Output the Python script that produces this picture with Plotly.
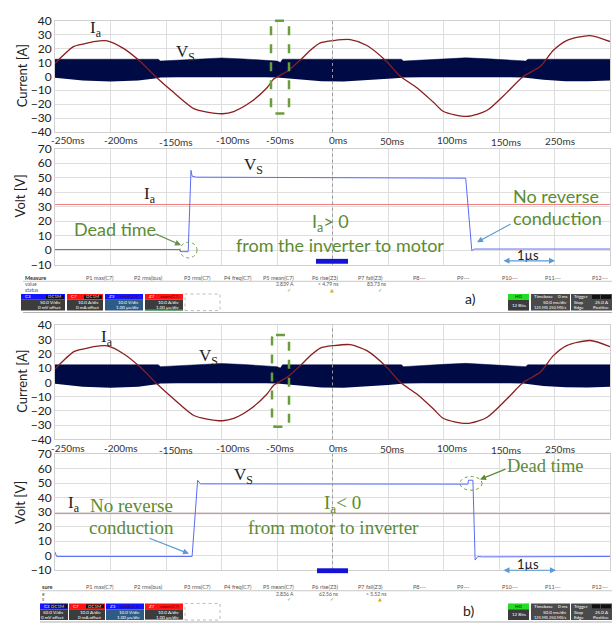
import plotly.graph_objects as go

W, H = 616, 628

# ---------------- data ----------------
# phase current Ia (A) vs time (ms) - upper panels
ia_t = [-250, -233, -224, -215, -203, -188, -173, -158, -143, -125, -113, -99, -89, -74, -59, -53, -41,
        -29, -20, -11, 1, 16, 31, 49, 61, 76, 91, 100, 121, 139, 157, 172, 187, 199, 211, 232, 250]
ia_v = [9.3, 21.5, 23.4, 25.0, 25.5, 19.9, 10.5, -1.2, -11.7, -23.2, -25.7, -26.9, -25.3, -18.7, -8.2, -2.0, 3.5,
        11.7, 18.7, 24.0, 25.7, 26.4, 22.2, 10.5, 0.0, -8.2, -18.7, -25.3, -28.8, -24.6, -11.7, 0.0, 7.0, 18.7, 25.7, 29.3, 25.0]

# PWM voltage Vs envelope (dense band) in the current panels
band_t = [-250, -225, -200, -175, -160, -157, -155, -140, -120, -100, -80, -60, -50, -47, -45, -30, -10, 10, 30,
          50, 60, 62, 64, 80, 100, 120, 140, 160, 172, 174, 176, 190, 210, 230, 250]
band_hi = [12.3, 12.3, 12.4, 12.3, 12.3, 12.3, 11.0, 11.5, 12.5, 13.2, 12.5, 11.5, 11.0, 10.0, 12.3, 12.3, 12.4, 12.4, 12.3,
           12.3, 12.3, 12.3, 11.0, 11.5, 12.6, 13.3, 12.6, 11.5, 11.0, 11.0, 12.3, 12.3, 12.4, 12.3, 12.3]
band_lo = [-1.0, -3.0, -3.8, -3.0, -1.5, -1.0, -0.8, -0.6, -0.5, -0.4, -0.5, -0.6, -0.8, -1.0, -1.2, -2.5, -3.6, -3.8, -3.0,
           -1.8, -1.2, -1.0, -0.8, -0.6, -0.5, -0.4, -0.5, -0.6, -0.8, -1.0, -1.2, -2.5, -3.5, -3.6, -3.0]

# zoomed switching transient (time in µs, volts)
vs_a_t = [0, 2.25, 2.26, 2.40, 2.45, 2.47, 2.55, 3.5, 5.5, 7.40, 7.51, 7.56, 10]
vs_a_v = [0.5, 0.5, -1.0, -1.0, 55.0, 51.0, 50.3, 50.1, 49.9, 49.6, -0.3, 0.8, 0.8]
vs_b_t = [0, 0.03, 2.47, 2.57, 2.62, 3.5, 5.5, 7.44, 7.45, 7.53, 7.57, 7.62, 7.7, 10]
vs_b_v = [2.5, -0.5, -0.5, 52.0, 49.5, 49.5, 49.3, 49.3, 52.0, 52.0, -3.0, -0.5, -0.8, -0.5]
ia_zoom_t = [0, 10]
ia_zoom_a = [31.5, 31.5]
ia_zoom_b = [29.0, 29.0]

t_ticks = [-250, -200, -150, -100, -50, 0, 50, 100, 150, 200]
t_ticktext = ["-250ms", "-200ms", "-150ms", "-100ms", "-50ms", "0ms", "50ms", "100ms", "150ms", "250ms"]
cur_ticks = [-40, -30, -20, -10, 0, 10, 20, 30, 40]
volt_ticks = [-10, 0, 10, 20, 30, 40, 50, 60, 70]

meas_headers = ["P1 max(C7)", "P2 rms(bus)", "P3 rms(C7)", "P4 freq(C7)", "P5 mean(C7)", "P6 rise(Z3)",
                "P7 fall(Z3)", "P8---", "P9---", "P10---", "P11---", "P12---"]
meas_vals_a = ["2.839 A", "< 4.79 ns", "83.73 ns"]
meas_vals_b = ["2.836 A", "62.56 ns", "< 5.52 ns"]

# ---------------- styles ----------------
SANS = "Lato"
SERIF = "Liberation Serif"
GREEN = "#5b8c32"
BLUEA = "#5b9bd5"
NAVY = "#000a45"
GRID = "#dedede"
tick_shift = [13, 10, 10, 11, 3, 5, 4, 8, 7, 5]     # label offsets seen in the picture (px)
tick_dy = [0, 0, 2, 0, 0, 0, 1, 0, 2, 1]

def px(x, y):
    return x / W, 1 - y / H

ann = []
shapes = []

def txt(x, y, s, size=6, color="#555", xanchor="center", family=SANS, angle=0):
    X, Y = px(x, y)
    ann.append(dict(x=X, y=Y, xref="paper", yref="paper", text=s, showarrow=False, xanchor=xanchor,
                    yanchor="middle", textangle=angle, font=dict(size=size, color=color, family=family)))

def arrow(xh, yh, xt, yt, color, both=False):
    X, Y = px(xh, yh)
    d = dict(x=X, y=Y, xref="paper", yref="paper", ax=xt - xh, ay=yt - yh, axref="pixel", ayref="pixel",
             text="", showarrow=True, arrowhead=2, arrowsize=1, arrowwidth=1.2, arrowcolor=color)
    if both:
        d["arrowside"] = "end+start"
    ann.append(d)

def rect(x0, y0, x1, y1, fill=None, line=None, lw=0, dash=None):
    X0, Y1 = px(x0, y0)
    X1, Y0 = px(x1, y1)
    ln = dict(width=lw, color=line or "rgba(0,0,0,0)")
    if dash:
        ln["dash"] = dash
    shapes.append(dict(type="rect", xref="paper", yref="paper", x0=X0, x1=X1, y0=Y0, y1=Y1,
                       fillcolor=fill or "rgba(0,0,0,0)", line=ln, layer="above"))

def hline(x0, x1, y, color="#c8c8c8", w=1):
    X0, Y = px(x0, y)
    X1, _ = px(x1, y)
    shapes.append(dict(type="line", xref="paper", yref="paper", x0=X0, x1=X1, y0=Y, y1=Y,
                       line=dict(color=color, width=w)))

def rounded_rect(x0, y0, x1, y1, r, color):
    def P(x, y):
        X, Y = px(x, y)
        return f"{X:.5f},{Y:.5f}"
    path = (f"M {P(x0 + r, y0)} L {P(x1 - r, y0)} Q {P(x1, y0)} {P(x1, y0 + r)} "
            f"L {P(x1, y1 - r)} Q {P(x1, y1)} {P(x1 - r, y1)} L {P(x0 + r, y1)} "
            f"Q {P(x0, y1)} {P(x0, y1 - r)} L {P(x0, y0 + r)} Q {P(x0, y0)} {P(x0 + r, y0)} Z")
    shapes.append(dict(type="path", xref="paper", yref="paper", path=path,
                       line=dict(color=color, width=2.5, dash="dash"), layer="above"))

def circle(x0, y0, x1, y1, color):
    X0, Y1 = px(x0, y0)
    X1, Y0 = px(x1, y1)
    shapes.append(dict(type="circle", xref="paper", yref="paper", x0=X0, x1=X1, y0=Y0, y1=Y1,
                       line=dict(color=color, width=1, dash="dot"), layer="above"))

# ---------------- traces ----------------
fig = go.Figure()
for xa, ya in (("x", "y"), ("x3", "y3")):
    fig.add_trace(go.Scatter(x=band_t, y=band_lo, xaxis=xa, yaxis=ya, mode="lines",
                             line=dict(width=0, color=NAVY), hoverinfo="skip"))
    fig.add_trace(go.Scatter(x=band_t, y=band_hi, xaxis=xa, yaxis=ya, mode="lines", fill="tonexty",
                             fillcolor=NAVY, line=dict(width=0.5, color=NAVY), hoverinfo="skip"))
    fig.add_trace(go.Scatter(x=ia_t, y=ia_v, xaxis=xa, yaxis=ya, mode="lines",
                             line=dict(width=1.3, color="#8b1f1f", shape="spline", smoothing=0.7)))

fig.add_trace(go.Scatter(x=ia_zoom_t, y=ia_zoom_a, xaxis="x2", yaxis="y2", mode="lines",
                         line=dict(width=1, color="#f27a7a")))
fig.add_trace(go.Scatter(x=vs_a_t, y=vs_a_v, xaxis="x2", yaxis="y2", mode="lines",
                         line=dict(width=1, color="#5a6cf2")))
fig.add_trace(go.Scatter(x=ia_zoom_t, y=ia_zoom_b, xaxis="x4", yaxis="y4", mode="lines",
                         line=dict(width=1, color="#f27a7a")))
fig.add_trace(go.Scatter(x=vs_b_t, y=vs_b_v, xaxis="x4", yaxis="y4", mode="lines",
                         line=dict(width=1, color="#5a6cf2")))

# ---------------- axes ----------------
xdom = [55 / W, 610 / W]
def ydom(top, bot):
    return [1 - bot / H, 1 - top / H]

common = dict(showline=True, linecolor="#d0d0d0", mirror=True, zeroline=False, gridcolor=GRID,
              showgrid=True, ticks="")
xcur = dict(common, domain=xdom, range=[-250, 250], tickvals=t_ticks, showticklabels=False)
xvolt = dict(common, domain=xdom, range=[0, 10], dtick=1, showticklabels=False)
ycur = dict(common, range=[-40, 40], tickvals=cur_ticks, tickfont=dict(size=12, color="#222", family=SANS))
yvolt = dict(common, range=[-10, 70], tickvals=volt_ticks, tickfont=dict(size=12, color="#222", family=SANS))

layout = dict(
    width=W, height=H, margin=dict(l=0, r=0, t=0, b=0), showlegend=False,
    paper_bgcolor="white", plot_bgcolor="white",
    xaxis=dict(xcur, anchor="y"), yaxis=dict(ycur, domain=ydom(13, 127), anchor="x"),
    xaxis2=dict(xvolt, anchor="y2"), yaxis2=dict(yvolt, domain=ydom(144, 263), anchor="x2"),
    xaxis3=dict(xcur, anchor="y3"), yaxis3=dict(ycur, domain=ydom(325, 442), anchor="x3"),
    xaxis4=dict(xvolt, anchor="y4"), yaxis4=dict(yvolt, domain=ydom(457, 576), anchor="x4"),
)

# time tick labels of the current panels (placed on the axis' data positions)
for xr, ybase in (("x", 135.5), ("x3", 451.0)):
    for tv, tt, sh, dy in zip(t_ticks, t_ticktext, tick_shift, tick_dy):
        ann.append(dict(x=tv, xref=xr, y=1 - (ybase + dy) / H, yref="paper", text=tt, showarrow=False,
                        xanchor="center", yanchor="middle", xshift=sh,
                        font=dict(size=10, color="#333", family=SANS)))

# centre dotted lines
for xr, yr, xv in (("x", "y", 0), ("x2", "y2", 5), ("x3", "y3", 0), ("x4", "y4", 5)):
    shapes.append(dict(type="line", xref=xr, yref=yr + " domain", x0=xv, x1=xv, y0=0, y1=1,
                       line=dict(color="#9a9a9a", width=1, dash="dot")))

# axis titles
for yc in (70, 383):
    txt(22, yc, "Current [A]", size=13, color="#222", angle=-90)
for yc in (192, 506):
    txt(20, yc, "Volt [V]", size=13, color="#222", angle=-90)

# ---------------- panel a annotations ----------------
txt(96, 22, "I<sub>a</sub>", size=17, color="#222", family=SERIF)
txt(185, 46, "V<sub>S</sub>", size=17, color="#222", family=SERIF)
rounded_rect(271, 13, 289, 108, 4, "#6a9e3a")
txt(253, 162, "V<sub>S</sub>", size=17, color="#222", family=SERIF)
txt(150, 192, "I<sub>a</sub>", size=17, color="#222", family=SERIF)
txt(115, 226, "Dead time", size=18, color=GREEN)
arrow(181, 243, 154, 231, "#6b8f50")
circle(180, 240, 197, 256, "#6a9e3a")
txt(330, 220, "I<sub>a</sub>&gt; 0", size=18, color=GREEN)
txt(340, 243, "from the inverter to motor", size=18, color=GREEN)
txt(556, 193, "No reverse", size=18, color=GREEN)
txt(557, 215, "conduction", size=18, color=GREEN)
arrow(477, 240, 512, 221, BLUEA)
txt(528, 253, "1µs", size=13, color="#222")
arrow(555, 259, 502, 259, BLUEA, both=True)
rect(316, 257, 348, 262, fill="#1212d8")
txt(470, 298, "a)", size=14, color="#222")

# ---------------- panel b annotations ----------------
txt(107, 338, "I<sub>a</sub>", size=17, color="#222", family=SERIF)
txt(208, 358, "V<sub>S</sub>", size=17, color="#222", family=SERIF)
rounded_rect(272, 335, 289, 429, 4, "#6a9e3a")
txt(243, 479, "V<sub>S</sub>", size=17, color="#222", family=SERIF)
txt(74, 508, "I<sub>a</sub>", size=17, color="#222", family=SERIF)
txt(131, 510, "No reverse", size=19, color=GREEN, family=SERIF)
txt(131, 532, "conduction", size=19, color=GREEN, family=SERIF)
arrow(189, 559, 148, 543, BLUEA)
txt(343, 508, "I<sub>a</sub>&lt; 0", size=19, color=GREEN, family=SERIF)
txt(333, 532, "from motor to inverter", size=19, color=GREEN, family=SERIF)
txt(545, 469.5, "Dead time", size=18.5, color=GREEN, family=SERIF)
arrow(480, 483, 507, 472, GREEN)
circle(460, 480, 482, 494, "#6a9e3a")
txt(528, 570, "1µs", size=13, color="#222")
arrow(556, 576, 502, 576, BLUEA, both=True)
rect(317, 574, 348, 579, fill="#1212d8")
txt(468, 617, "b)", size=14, color="#222")

# ---------------- oscilloscope status areas ----------------
head_x = [100, 148, 197, 238, 278, 325, 370, 420, 463, 510, 553, 600]
val_x = [285, 328, 376]
for dy, vals, stat, first in ((0, meas_vals_a, [("✓", "#3cb83c"), ("▲", "#d8b020"), ("✓", "#3cb83c")], True),
                              (317, meas_vals_b, [("✓", "#3cb83c"), ("✓", "#3cb83c"), ("▲", "#d8b020")], False)):
    x_left = 23 if first else 40
    if first:
        txt(x_left, 276.5 + dy, "<b>Measure</b>", size=5.5, color="#333", xanchor="left")
        txt(x_left, 283 + dy, "value", size=5, color="#555", xanchor="left")
        txt(x_left, 288.5 + dy, "status", size=5, color="#555", xanchor="left")
    else:
        txt(x_left, 276.5 + dy, "<b>sure</b>", size=5.5, color="#333", xanchor="left")
        txt(x_left, 283 + dy, "e", size=5, color="#555", xanchor="left")
        txt(x_left, 288.5 + dy, "s", size=5, color="#555", xanchor="left")
    for hx, h in zip(head_x, meas_headers):
        txt(hx, 276.5 + dy, h, size=5.5, color="#555")
    for vx, v in zip(val_x, vals):
        txt(vx, 283 + dy, v, size=5, color="#555")
    for vx, (s, c) in zip(val_x, stat):
        txt(vx + 4, 288.5 + dy, s, size=5, color=c, family="DejaVu Sans")
    hline(x_left, 612, 280 + dy)
    hline(x_left, 612, 312 + dy, color="#b0b0b0")

    boxes = [(21 if first else 40, 65 if first else 68, "#1414ff", "#3c3c3c", "C3", "DC1M", "50.0 V/div", "0 mV offset"),
             (67 if first else 69, 103 if first else 105, "#ff1414", "#3c3c3c", "C7", "DC1M", "10.0 A/div", "0 mA offset"),
             (105 if first else 106, 143 if first else 144, "#1414ff", "#2d5b86", "Z3", "zoom(C3)", "10.0 V/div", "1.00 µs/div"),
             (145, 183, "#ff1414", "#3c3c3c", "Z7", "zoom(C7)", "10.0 A/div", "1.00 µs/div")]
    top = 293 + dy
    for (x0, x1, hc, bc, lab, tag, l1, l2) in boxes:
        rect(x0, top, x1, top + 6, fill=hc)
        rect(x0, top + 6, x1, top + 17, fill=bc)
        txt(x0 + 2, top + 3, lab, size=4.5, color="white", xanchor="left")
        if tag == "DC1M":
            rect(x1 - 19, top + 1, x1 - 1, top + 5, fill="#111")
            txt(x1 - 2, top + 3, tag, size=4.5, color="#ddd", xanchor="right")
        else:
            txt(x1 - 2, top + 3, tag, size=4.5, color="#600", xanchor="right")
        txt(x1 - 2, top + 9, l1, size=4.5, color="white", xanchor="right")
        txt(x1 - 2, top + 14, l2, size=4.5, color="white", xanchor="right")
    rect(145, top + 16, 183, top + 17, fill="#39b54a")
    rect(185, top, 220, top + 17, line="#bbbbbb", lw=1, dash="dot")

    # right-hand acquisition boxes
    rect(508, top, 529, top + 6, fill="#22dd22")
    rect(508, top + 6, 529, top + 17, fill="#3c3c3c")
    txt(518.5, top + 3, "HD", size=4.5, color="#111")
    txt(518.5, top + 11.5, "12 Bits", size=4.5, color="white")
    rect(531, top, 570, top + 17, fill="#4a4a4a")
    txt(532, top + 3, "Timebase", size=4.5, color="white", xanchor="left")
    txt(569, top + 3, "0 ms", size=4.5, color="white", xanchor="right")
    txt(569, top + 9, "50.0 ms/div", size=4.5, color="white", xanchor="right")
    txt(532, top + 14, "125 MS", size=4, color="white", xanchor="left")
    txt(569, top + 14, "250 MS/s", size=4, color="white", xanchor="right")
    rect(571, top, 612, top + 17, fill="#4a4a4a")
    txt(572, top + 3, "Trigger", size=4.5, color="white", xanchor="left")
    rect(592, top + 1, 600, top + 5, fill="#111")
    rect(601, top + 1, 611, top + 5, fill="#111")
    txt(572, top + 9, "Stop", size=4.5, color="white", xanchor="left")
    txt(611, top + 9, "25.0 A", size=4.5, color="white", xanchor="right")
    txt(572, top + 14, "Edge", size=4.5, color="white", xanchor="left")
    txt(611, top + 14, "Positive", size=4.5, color="white", xanchor="right")

layout["annotations"] = ann
layout["shapes"] = shapes
fig.update_layout(**layout)
fig.write_html("out.html")
